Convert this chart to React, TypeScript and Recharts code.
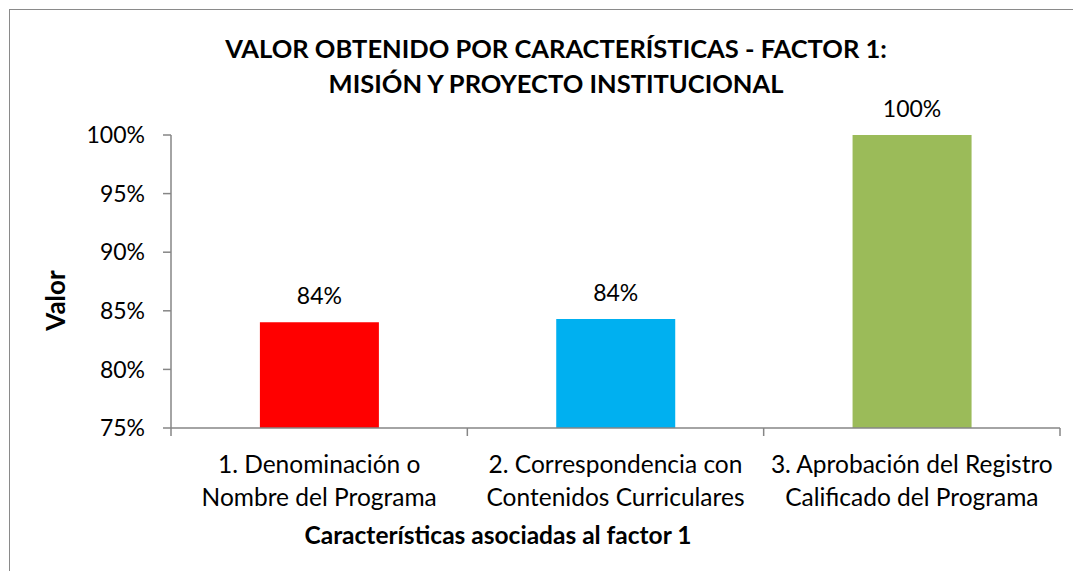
import React from 'react';
import { BarChart, Bar, XAxis, YAxis, Cell, LabelList } from 'recharts';

const categories = [
  ['1. Denominación o', 'Nombre del Programa'],
  ['2. Correspondencia con', 'Contenidos Curriculares'],
  ['3. Aprobación del Registro', 'Calificado del Programa'],
];
const values = [0.8403, 0.843, 1.0];
const barColors = ['#FF0000', '#00B0F0', '#9BBB59'];
const valueLabels = ['84%', '84%', '100%'];
const yTicks = [0.75, 0.8, 0.85, 0.9, 0.95, 1.0];
const titleLines = ['VALOR OBTENIDO POR CARACTERÍSTICAS - FACTOR 1:', 'MISIÓN Y PROYECTO INSTITUCIONAL'];
const yTitle = 'Valor';
const xTitle = 'Características asociadas al factor 1';

const W = 1081;
const H = 579;
const X_AXIS_H = 151;
const Y_AXIS_W = 171;
const margin = { top: 135, right: 21, bottom: 0, left: 0 };
const PLOT_W = W - margin.left - margin.right - Y_AXIS_W;
const BAND = PLOT_W / categories.length;
const FONT = 'Lato, "Noto Sans", sans-serif';
const AXIS = '#868686';

const data = categories.map((c, i) => ({ key: String(i), value: values[i], label: valueLabels[i] }));

function CategoryTick(props: any) {
  const { x, y, payload, index } = props;
  const lines = categories[Number(payload.value)] || [];
  const last = index === categories.length - 1;
  return (
    <g>
      <line x1={x - BAND / 2} x2={x - BAND / 2} y1={y} y2={y + 8} stroke={AXIS} strokeWidth={1.5} />
      {last && <line x1={x + BAND / 2} x2={x + BAND / 2} y1={y} y2={y + 8} stroke={AXIS} strokeWidth={1.5} />}
      <text x={x} y={y + 35} textAnchor="middle" dominantBaseline="central" fill="#000" fontSize={24.5} fontFamily={FONT}>
        {lines[0]}
      </text>
      <text x={x} y={y + 68} textAnchor="middle" dominantBaseline="central" fill="#000" fontSize={24.5} fontFamily={FONT}>
        {lines[1]}
      </text>
    </g>
  );
}

export default function App() {
  return (
    <div style={{ position: 'relative', width: W, height: H, margin: -8, background: '#fff', overflow: 'hidden', fontFamily: FONT }}>
      <div style={{ position: 'absolute', left: 9, top: 9, width: W, height: H, borderLeft: '1.5px solid #8a8a8a', borderTop: '1.5px solid #8a8a8a' }} />
      <div style={{ position: 'absolute', left: 0, width: 1112, top: 31, textAlign: 'center', fontWeight: 700, fontSize: 25.5, lineHeight: '35px', color: '#000' }}>
        {titleLines.map((t) => (
          <div key={t}>{t}</div>
        ))}
      </div>
      <BarChart width={W} height={H} data={data} margin={margin} barCategoryGap="30%">
        <XAxis
          dataKey="key"
          axisLine={{ stroke: AXIS, strokeWidth: 1.5 }}
          tickLine={false}
          tickSize={0}
          tickMargin={0}
          tick={<CategoryTick />}
          interval={0}
          height={X_AXIS_H}
        />
        <YAxis
          width={Y_AXIS_W}
          domain={[0.75, 1]}
          ticks={yTicks}
          allowDataOverflow
          axisLine={{ stroke: AXIS, strokeWidth: 1.5 }}
          tickLine={{ stroke: AXIS, strokeWidth: 1.5 }}
          tickSize={8}
          tickMargin={18}
          tickFormatter={(v: number) => `${Math.round(v * 100)}%`}
          tick={{ fill: '#000', fontSize: 23, fontFamily: FONT }}
          label={{ value: yTitle, angle: -90, position: 'insideLeft', offset: 56, dy: 19, textAnchor: 'middle', fill: '#000', fontSize: 26, fontWeight: 700, fontFamily: FONT }}
        />
        <Bar dataKey="value" isAnimationActive={false}>
          {data.map((d, i) => (
            <Cell key={d.key} fill={barColors[i]} />
          ))}
          <LabelList dataKey="label" position="top" offset={18} fill="#000" fontSize={23} fontFamily={FONT} />
        </Bar>
      </BarChart>
      <div style={{ position: 'absolute', left: 498 - 300, width: 600, top: 519, textAlign: 'center', fontWeight: 700, fontSize: 24.5, lineHeight: '32px', color: '#000' }}>
        {xTitle}
      </div>
    </div>
  );
}
